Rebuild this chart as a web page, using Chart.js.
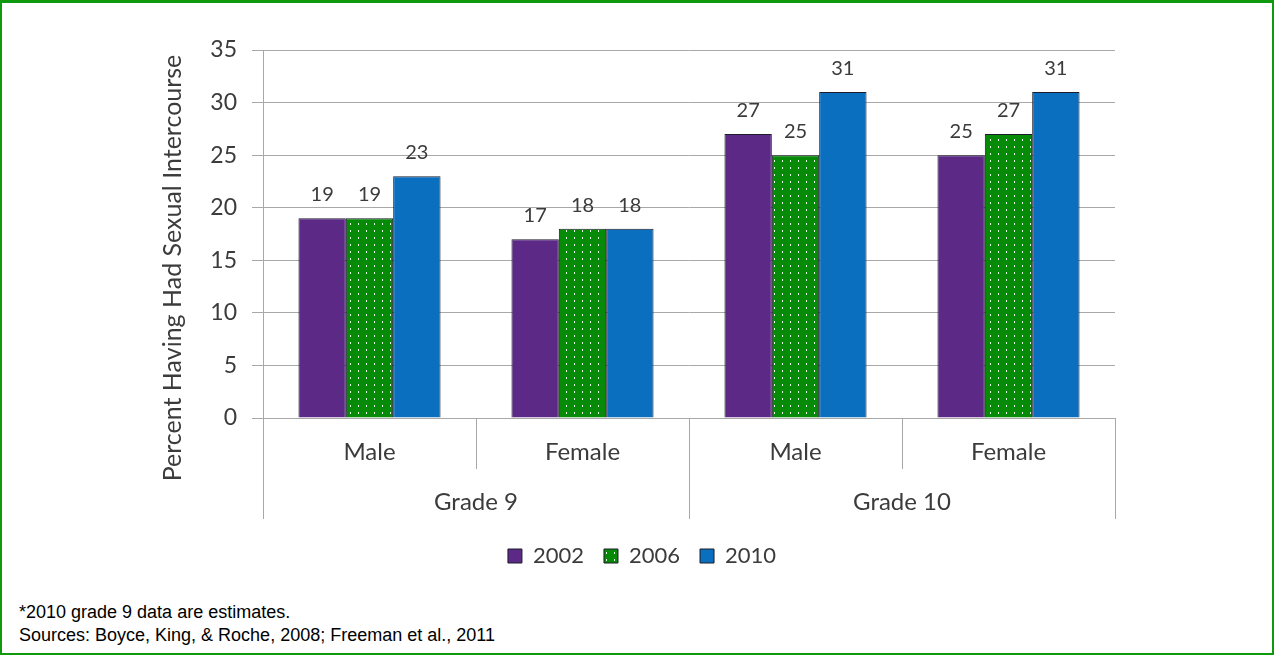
<!DOCTYPE html>
<html>
<head>
<meta charset="utf-8">
<script src="https://cdn.jsdelivr.net/npm/chart.js@4.4.1/dist/chart.umd.min.js"></script>
<style>
  html, body { margin: 0; padding: 0; background: #fff; }
  #frame {
    position: relative; width: 1274px; height: 655px; box-sizing: border-box;
    border: 2px solid #0f990f; border-top-width: 3px; overflow: hidden;
  }
  #chartBox { position: absolute; left: 0; top: 0; width: 1270px; height: 574px; }
  #notes {
    position: absolute; left: 17px; top: 598px;
    font: 18px "Liberation Sans", Arial, sans-serif; line-height: 23px; color: #000;
  }
</style>
</head>
<body>
<div id="frame">
  <div id="chartBox"><canvas id="sexChart"></canvas></div>
  <div id="notes">
    <div>*2010 grade 9 data are estimates.</div>
    <div>Sources: Boyce, King, &amp; Roche, 2008; Freeman et al., 2011</div>
  </div>
</div>
<script>
document.addEventListener('DOMContentLoaded', function() {
    const ctx = document.getElementById('sexChart');
    if (!ctx) return;

    // Sub-categories along the axis, and the grade each pair belongs to
    const genders = ['Male', 'Female', 'Male', 'Female'];
    const grades = ['Grade 9', 'Grade 10'];
    const gradeSpan = 2;

    const years = ['2002', '2006', '2010'];
    const values2002 = [19, 17, 27, 25];
    const values2006 = [19, 18, 25, 27];
    const values2010 = [23, 18, 31, 31];

    const yTicks = [0, 5, 10, 15, 20, 25, 30, 35];
    const yTitle = 'Percent Having Had Sexual Intercourse';

    const textColor = '#3b3b3b';
    const lineColor = '#a8a8a8';
    const fontFamily = 'Lato, "Open Sans", sans-serif';

    // green with a grid of small white dots
    function dottedGreen() {
        const c = document.createElement('canvas');
        c.width = 8; c.height = 7;
        const g = c.getContext('2d');
        g.fillStyle = '#078a07';
        g.fillRect(0, 0, 8, 7);
        g.fillStyle = '#e8ffe8';
        g.fillRect(4, 3, 1, 2);
        return g.createPattern(c, 'repeat');
    }

    // value above each bar
    const valueLabels = {
        id: 'valueLabels',
        afterDatasetsDraw(chart) {
            const c = chart.ctx;
            c.save();
            c.font = '20px ' + fontFamily;
            c.fillStyle = textColor;
            c.textAlign = 'center';
            c.textBaseline = 'alphabetic';
            chart.data.datasets.forEach((ds, i) => {
                chart.getDatasetMeta(i).data.forEach((bar, j) => {
                    c.fillText(String(ds.data[j]), bar.x, bar.y - 17);
                });
            });
            c.restore();
        }
    };

    // second axis row: grade groups, their dividers, and the rotated y title
    const gradeRows = {
        id: 'gradeRows',
        afterDraw(chart) {
            const c = chart.ctx;
            const x = chart.scales.x;
            const y = chart.scales.y;
            const area = chart.chartArea;
            const half = (x.getPixelForValue(1) - x.getPixelForValue(0)) / 2;
            c.save();
            c.strokeStyle = lineColor;
            c.lineWidth = 1;
            for (let g = 0; g <= grades.length; g++) {
                const px = Math.round(x.getPixelForValue(g * gradeSpan) - half) + 0.5;
                c.beginPath();
                c.moveTo(px, area.bottom);
                c.lineTo(px, area.bottom + 101);
                c.stroke();
            }
            c.font = '24px ' + fontFamily;
            c.fillStyle = textColor;
            c.textAlign = 'center';
            c.textBaseline = 'middle';
            grades.forEach((name, g) => {
                const left = x.getPixelForValue(g * gradeSpan) - half;
                const right = x.getPixelForValue(g * gradeSpan + gradeSpan - 1) + half;
                c.fillText(name, (left + right) / 2, area.bottom + 84);
            });
            c.font = '25px ' + fontFamily;
            c.translate(area.left - 90, (y.top + y.bottom) / 2 + 34);
            c.rotate(-Math.PI / 2);
            c.fillText(yTitle, 0, 0);
            c.restore();
        }
    };

    const data = {
        labels: genders,
        datasets: [
            { label: years[0], data: values2002, backgroundColor: '#5c2a86' },
            { label: years[1], data: values2006, backgroundColor: dottedGreen() },
            { label: years[2], data: values2010, backgroundColor: '#0b6fc0' }
        ].map(ds => Object.assign(ds, {
            borderColor: '#1c1c2a',
            borderWidth: 1,
            categoryPercentage: 0.667,
            barPercentage: 1.0
        }))
    };

    const options = {
        responsive: true,
        maintainAspectRatio: false,
        animation: false,
        layout: { padding: { left: 167, right: 157, top: 47, bottom: 0 } },
        scales: {
            y: {
                min: 0, max: 35,
                afterBuildTicks: axis => { axis.ticks = yTicks.map(v => ({ value: v })); },
                afterFit: axis => { axis.width = 94; },
                ticks: { color: textColor, font: { family: fontFamily, size: 23 }, padding: 15 },
                grid: { color: lineColor, tickLength: 11 },
                border: { color: lineColor }
            },
            x: {
                afterFit: axis => { axis.height = 107; },
                ticks: { color: textColor, font: { family: fontFamily, size: 24 }, padding: -31 },
                grid: { offset: true, drawOnChartArea: false, color: lineColor, tickLength: 51 },
                border: { color: lineColor }
            }
        },
        plugins: {
            legend: {
                position: 'bottom',
                labels: {
                    color: textColor,
                    font: { family: fontFamily, size: 22 },
                    boxWidth: 14, boxHeight: 14,
                    padding: 20
                }
            },
            tooltip: { enabled: false }
        }
    };

    new Chart(ctx, { type: 'bar', data: data, options: options, plugins: [valueLabels, gradeRows] });
});
</script>
</body>
</html>
